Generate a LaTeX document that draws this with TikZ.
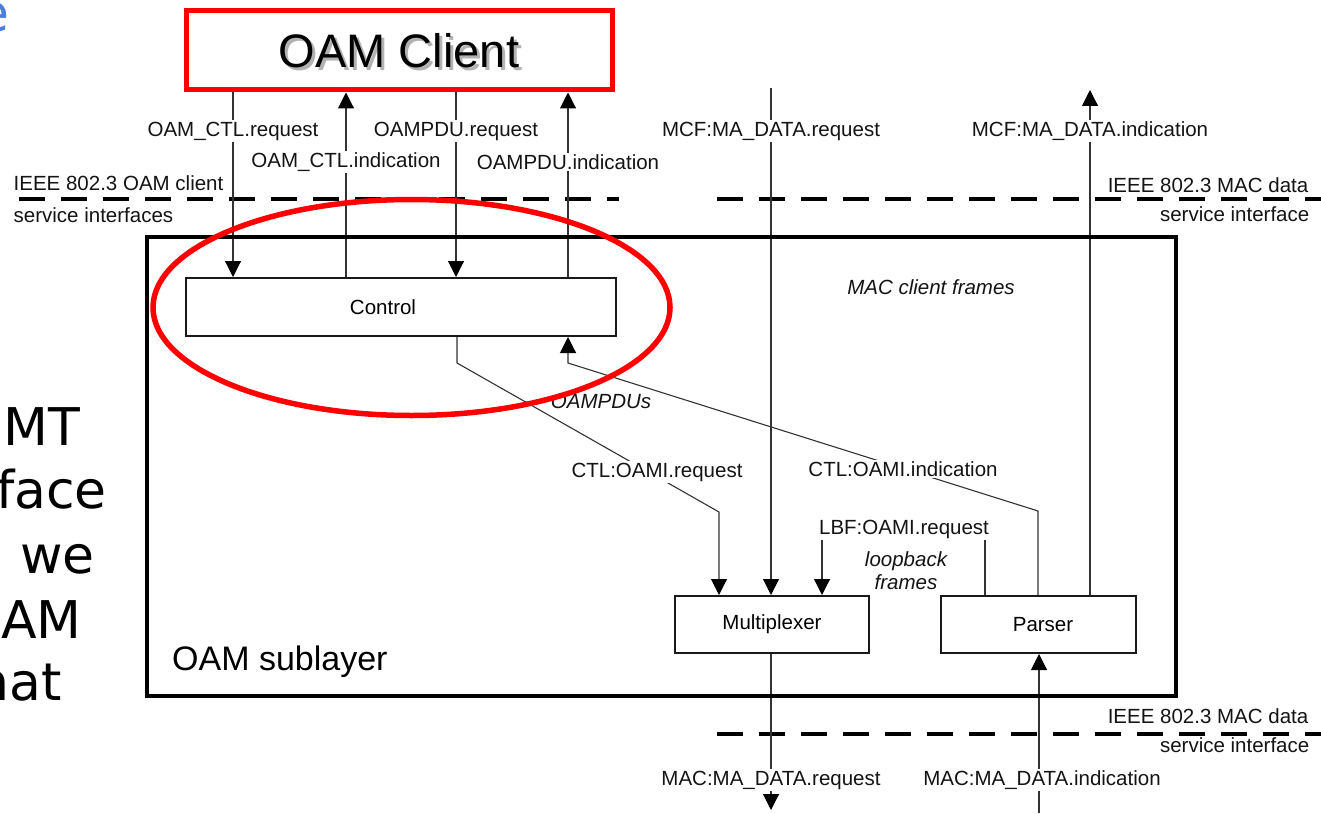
\documentclass[tikz,border=0pt]{standalone}
\usepackage{fontspec}
\setmainfont{Liberation Sans}
\newfontfamily\bigfont{DejaVu Sans}
\usetikzlibrary{arrows.meta}
\pgfdeclarelayer{bg}
\pgfdeclarelayer{paper}
\pgfsetlayers{paper,bg,main}
\definecolor{titleblue}{RGB}{75,125,220}
\begin{document}
\begin{tikzpicture}[x=1pt,y=-1pt,
  lab/.style={fill=white, inner sep=1.5pt, font=\fontsize{20.5}{24}\selectfont, text=black!92},
  ital/.style={inner sep=1pt, font=\fontsize{20.5}{23}\selectfont\itshape, text=black!92},
  blk/.style={draw=black!90, line width=2pt, fill=white, inner sep=0pt, font=\fontsize{20.5}{24}\selectfont},
  conn/.style={draw=black!80, line width=1.1pt},
  arr/.style={conn, -{Triangle[width=16pt,length=16pt,color=black]}},
  iface/.style={line width=4.5pt, dash pattern=on 26pt off 16pt},
  bigtxt/.style={inner sep=0pt, anchor=base east, font=\bigfont\fontsize{52}{60}\selectfont}
]
\useasboundingbox (0,0) rectangle (1321,813);
\clip (0,0) rectangle (1321,813);
\begin{pgfonlayer}{paper}
\fill[white] (0,0) rectangle (1321,813);
\end{pgfonlayer}

% slide fragments
\node[bigtxt, text=titleblue] (ttl) at (10,32) {e};
\node[bigtxt] (t1) at (80,445) {MT};
\node[bigtxt] (t2) at (107,508) {face};
\node[bigtxt] (t3) at (95,573) {we};
\node[bigtxt] (t4) at (82,638) {AM};
\node[bigtxt] (t5) at (62,700) {hat};

% OAM client
\node[text=black!30, font=\fontsize{47}{50}\selectfont] (clientshadow) at (402,54) {OAM Client};
\node[draw=red, line width=5pt, minimum width=426pt, minimum height=79pt, inner sep=0pt,
      font=\fontsize{47}{50}\selectfont] (client) at (399,50.5) {OAM Client};

% sublayer box
\node[draw=black, line width=4.5pt, minimum width=1029pt, minimum height=459pt, inner sep=0pt] (sublayer) at (661.5,466.5) {};
\node[inner sep=0pt, anchor=base west, font=\fontsize{34}{40}\selectfont] (sublbl) at (172,670) {OAM sublayer};

% blocks
\node[blk, minimum width=430pt, minimum height=58pt] (control) at (401,307) {Control\hspace*{36pt}};
\node[blk, minimum width=194pt, minimum height=57pt] (mux) at (772,624.5) {Multiplexer};
\node[blk, minimum width=195pt, minimum height=57pt] (parser) at (1038.5,624.5) {\hspace*{9pt}Parser};

% primitive labels
\node[lab] (ctlreq) at (233,131) {OAM\_CTL.request};
\node[lab] (ctlind) at (346,162) {OAM\_CTL.indication};
\node[lab] (pdureq) at (456,131) {OAMPDU.request};
\node[lab] (pduind) at (568,162) {OAMPDU.indication};
\node[lab] (mcfreq) at (771,131) {MCF:MA\_DATA.request};
\node[lab] (mcfind) at (1090,131) {MCF:MA\_DATA.indication};
\node[lab] (oamireq) at (657,472) {CTL:OAMI.request};
\node[lab] (oamiind) at (903,469) {CTL:OAMI.indication};
\node[lab] (lbf) at (904,529) {LBF:OAMI.request};
\node[lab] (macreq) at (771,780) {MAC:MA\_DATA.request};
\node[lab] (macind) at (1042,780) {MAC:MA\_DATA.indication};

\node[ital] (mcframes) at (931,287) {MAC client frames};
\node[ital] (oampdus) at (601,401) {OAMPDUs};
\node[ital, align=center] (loop) at (906,571) {loopback\\frames};

% interface labels
\node[lab, anchor=west] (ifl1) at (12,183) {IEEE 802.3 OAM client};
\node[lab, anchor=west] (ifl2) at (12,215) {service interfaces};
\node[lab, anchor=east] (ifr1) at (1310,185) {IEEE 802.3 MAC data};
\node[lab, anchor=east] (ifr2) at (1311,214) {service interface};
\node[lab, anchor=east] (ifb1) at (1310,716) {IEEE 802.3 MAC data};
\node[lab, anchor=east] (ifb2) at (1311,745) {service interface};

% interface dashed lines
\coordinate (dA1) at (19,199);  \coordinate (dA2) at (619,199);
\coordinate (dB1) at (717,199); \coordinate (dB2) at (1321,199);
\coordinate (dC1) at (717,734); \coordinate (dC2) at (1321,734);

% free ends
\coordinate (mcftop) at (771,88);
\coordinate (mcfindtop) at (1090,90);
\coordinate (r1) at (457,363); \coordinate (r2) at (719,512);
\coordinate (i1) at (1038,511); \coordinate (i2) at (568,363);
\coordinate (l1) at (985,529); \coordinate (l2) at (822,529);
\coordinate (macreqend) at (771,810);
\coordinate (macindstart) at (1039,813);

\begin{pgfonlayer}{bg}
\draw[iface] (dA1) -- (dA2);
\draw[iface] (dB1) -- (dB2);
\draw[iface] (dC1) -- (dC2);
\draw[arr] (client.south -| ctlreq) -- (control.north -| ctlreq);
\draw[arr] (control.north -| ctlind) -- (client.south -| ctlind);
\draw[arr] (client.south -| pdureq) -- (control.north -| pdureq);
\draw[arr] (control.north -| pduind) -- (client.south -| pduind);
\draw[arr] (mcftop) -- (mux.north -| mcftop);
\draw[arr] (parser.north -| mcfindtop) -- (mcfindtop);
\draw[arr] (control.south -| r1) -- (r1) -- (r2) -- (mux.north -| r2);
\draw[arr] (parser.north -| i1) -- (i1) -- (i2) -- (control.south -| i2);
\draw[arr] (parser.north -| l1) -- (l1) -- (l2) -- (mux.north -| l2);
\draw[arr] (mux.south -| macreqend) -- (macreqend);
\draw[arr] (macindstart) -- (parser.south -| macindstart);
\end{pgfonlayer}

% red highlight ellipse
\draw[red, line width=5.5pt] (411.5,307.5) ellipse [x radius=258.5pt, y radius=108pt];
\end{tikzpicture}
\end{document}
